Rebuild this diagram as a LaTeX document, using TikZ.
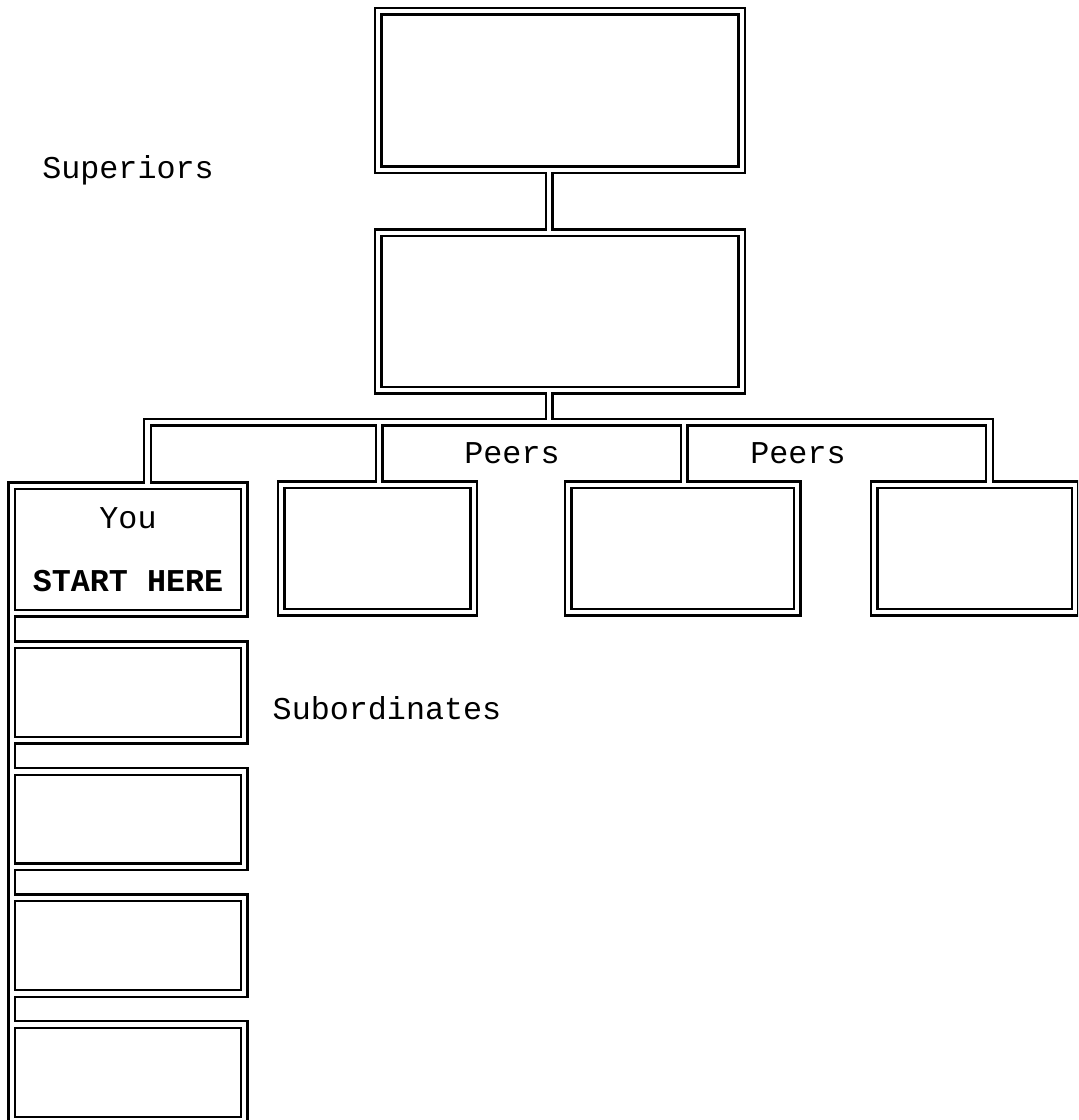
\documentclass[tikz,border=0pt]{standalone}
\usepackage{fontspec}
\setmainfont{Liberation Mono}
\usetikzlibrary{positioning}

\begin{document}
\begin{tikzpicture}[x=0.75pt,y=-0.75pt,
  font=\fontsize{23.8}{28}\selectfont,
  unit/.style 2 args={rectangle,inner sep=0pt,minimum width=#1*0.75pt,minimum height=#2*0.75pt}]
  \clip (0,0) rectangle (1078,1120);
  % boxes
  \node[unit={363}{158}] (sup1) at (560,90.5) {};
  \node[unit={363}{157}] (sup2) at (560,311.5) {};
  \node[unit={232}{127},align=center] (you) at (128,549.5) {You\\[19pt]\textbf{START HERE}};
  \node[unit={192}{127}] (peer1) at (377.5,548.5) {};
  \node[unit={228.5}{127}] (peer2) at (682.75,548.5) {};
  \node[unit={200.5}{127}] (peer3) at (974.75,548.5) {};
  \foreach \i/\y in {1/692.5,2/819.1,3/945.7,4/1072.3}
    \node[unit={232}{95}] (sub\i) at (128,\y) {};
  % bus points
  \coordinate (hub)  at (549,422);
  \coordinate (busL) at (147.5,422);
  \coordinate (busR) at (989.5,422);
  \coordinate (tap1) at (379,422);
  \coordinate (tap2) at (684,422);
  % labels
  \node (superiors) at (128,170) {Superiors};
  \node (peersA) at (512,453) {Peers};
  \node (peersB) at (798,453) {Peers};
  \node (subs) at (387,708) {Subordinates};
  % double lines: black rim first, white core on top
  \foreach \c/\w in {black/6.75pt,white/3.3pt}{
    \foreach \b in {sup1,sup2,you,peer1,peer2,peer3,sub1,sub2,sub3,sub4}
      \draw[draw=\c,line width=\w] (\b.north west) rectangle (\b.south east);
    \draw[draw=\c,line width=\w] (sup1.south -| hub) -- (sup2.north -| hub);
    \draw[draw=\c,line width=\w] (sup2.south -| hub) -- (hub);
    \draw[draw=\c,line width=\w] (you.north -| busL) -- (busL) -- (busR) -- (peer3.north -| busR);
    \draw[draw=\c,line width=\w] (tap1) -- (peer1.north -| tap1);
    \draw[draw=\c,line width=\w] (tap2) -- (peer2.north -| tap2);
    \draw[draw=\c,line width=\w] (you.north west) -- (sub4.south west);
  }
\end{tikzpicture}
\end{document}
